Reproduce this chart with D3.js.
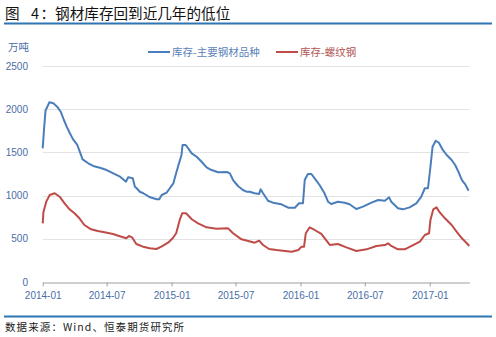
<!DOCTYPE html>
<html><head><meta charset="utf-8">
<script src="https://cdn.jsdelivr.net/npm/d3@7"></script>
<style>
html,body{margin:0;padding:0;background:#fff;}
svg{display:block;}
</style></head>
<body>
<svg id="c" width="496" height="337"></svg>
<script>
// ---- data ----
const titleParts = ["图", "4", "：钢材库存回到近几年的低位"];
const sourceText = "数据来源：Wind、恒泰期货研究所";
const unitLabel = "万吨";
const seriesNames = ["库存-主要钢材品种", "库存-螺纹钢"];
const yTicks = [0, 500, 1000, 1500, 2000, 2500];
const xTickLabels = ["2014-01","2014-07","2015-01","2015-07","2016-01","2016-07","2017-01"];

const mainDates = ["2014-01-01","2014-01-05","2014-01-09","2014-01-20","2014-01-31","2014-02-11","2014-02-21","2014-03-02","2014-03-10","2014-03-19","2014-03-28","2014-04-09","2014-04-16","2014-04-24","2014-05-10","2014-05-24","2014-06-12","2014-07-01","2014-07-20","2014-08-08","2014-08-25","2014-08-31","2014-09-13","2014-09-19","2014-09-24","2014-10-03","2014-10-13","2014-11-01","2014-11-20","2014-11-27","2014-12-04","2014-12-18","2014-12-27","2015-01-06","2015-01-15","2015-01-22","2015-01-29","2015-02-01","2015-02-10","2015-02-17","2015-02-27","2015-03-13","2015-03-27","2015-04-10","2015-04-24","2015-05-13","2015-06-07","2015-06-15","2015-06-24","2015-07-08","2015-07-22","2015-08-01","2015-08-10","2015-08-24","2015-09-06","2015-09-10","2015-09-17","2015-10-01","2015-10-15","2015-11-08","2015-11-27","2015-12-16","2015-12-28","2016-01-08","2016-01-13","2016-01-22","2016-02-01","2016-02-10","2016-02-24","2016-03-09","2016-03-19","2016-03-28","2016-04-16","2016-05-05","2016-05-19","2016-06-07","2016-06-26","2016-07-20","2016-08-08","2016-08-27","2016-09-08","2016-09-14","2016-10-03","2016-10-17","2016-11-05","2016-11-24","2016-12-08","2016-12-18","2016-12-27","2017-01-03","2017-01-09","2017-01-18","2017-01-27","2017-02-07","2017-02-18","2017-03-04","2017-03-14","2017-03-23","2017-04-02","2017-04-11","2017-04-21"];
const mainValues = [1547,1779,1983,2080,2068,2029,1971,1875,1798,1721,1651,1586,1508,1420,1374,1343,1323,1296,1258,1219,1161,1212,1200,1103,1085,1045,1027,980,957,957,1007,1034,1085,1142,1277,1374,1470,1586,1586,1547,1489,1450,1392,1327,1296,1270,1273,1258,1180,1111,1065,1045,1045,1027,1018,1073,1027,941,918,899,860,860,911,911,1180,1250,1250,1200,1123,1027,929,903,929,918,900,845,872,918,949,941,980,929,853,841,864,911,987,1085,1085,1334,1566,1635,1612,1528,1470,1412,1354,1277,1180,1134,1057];

const rebarDates = ["2014-01-01","2014-01-03","2014-01-11","2014-01-21","2014-02-04","2014-02-18","2014-03-04","2014-03-18","2014-04-01","2014-04-15","2014-04-29","2014-05-18","2014-06-06","2014-06-25","2014-07-19","2014-08-12","2014-08-26","2014-09-02","2014-09-11","2014-09-23","2014-10-12","2014-10-31","2014-11-19","2014-12-03","2014-12-22","2015-01-04","2015-01-14","2015-01-24","2015-01-31","2015-02-11","2015-02-27","2015-03-17","2015-04-10","2015-05-08","2015-06-10","2015-06-24","2015-07-18","2015-08-06","2015-08-24","2015-09-06","2015-09-17","2015-10-04","2015-10-25","2015-11-18","2015-12-07","2015-12-26","2016-01-04","2016-01-11","2016-01-16","2016-01-27","2016-02-10","2016-02-29","2016-03-19","2016-03-24","2016-04-16","2016-05-10","2016-06-07","2016-07-06","2016-08-03","2016-08-27","2016-09-05","2016-09-14","2016-10-03","2016-10-22","2016-11-15","2016-12-04","2016-12-18","2016-12-30","2017-01-03","2017-01-11","2017-01-20","2017-01-30","2017-02-13","2017-03-04","2017-03-18","2017-04-02","2017-04-16","2017-04-23"];
const rebarValues = [679,806,930,1007,1027,987,911,841,795,737,660,610,590,575,556,524,506,532,517,440,409,390,382,409,455,506,564,718,795,795,726,679,633,617,621,564,494,475,455,478,428,382,370,359,351,370,409,409,564,633,602,556,455,428,440,401,359,378,417,428,448,417,378,378,428,467,544,564,718,841,864,802,737,660,583,506,448,417];

// ---- drawing ----
const parse = d3.timeParse("%Y-%m-%d");
const parseM = d3.timeParse("%Y-%m");
const svg = d3.select("#c");
const fontSans = "'Liberation Sans', Arial, sans-serif";
const fontCJK = "'Noto Sans CJK SC', 'Liberation Sans', sans-serif";
const axisColor = "#4a6ea6";
const blue = "#4a7ebb", red = "#be4b48";

const x = d3.scaleTime().domain([parse("2014-01-01"), parse("2017-04-23")]).range([42.7, 469.3]);
const y = d3.scaleLinear().domain([0, 2500]).range([282, 66]);

// title
const title = svg.append("text").attr("y", 19).attr("font-family", fontCJK)
  .attr("font-size", 14.6).attr("fill", "#111");
const titleX = [5, 31, 40.5];
titleParts.forEach((t, i) => title.append("tspan").attr("x", titleX[i]).text(t));
svg.append("line").attr("x1", 4).attr("x2", 492).attr("y1", 23.5).attr("y2", 23.5)
  .attr("stroke", "#2e75b6").attr("stroke-width", 2);

// gridlines
svg.append("g").selectAll("line").data(yTicks.filter(d => d > 0)).join("line")
  .attr("x1", 42.7).attr("x2", 469.3)
  .attr("y1", d => Math.round(y(d)) + 0.5).attr("y2", d => Math.round(y(d)) + 0.5)
  .attr("stroke", "#e3e3e3").attr("stroke-width", 1);

// y axis labels
svg.append("g").selectAll("text").data(yTicks).join("text")
  .attr("x", 28).attr("y", d => y(d) + 3.5).attr("text-anchor", "end")
  .attr("font-family", fontSans).attr("font-size", 10).attr("fill", axisColor)
  .text(d => d);

svg.append("text").attr("x", 8).attr("y", 51).attr("font-family", fontCJK)
  .attr("font-size", 10.5).attr("fill", axisColor).text(unitLabel);

// x axis
const xAxis = d3.axisBottom(x)
  .tickValues(xTickLabels.map(s => parseM(s)))
  .tickFormat(d3.timeFormat("%Y-%m"))
  .tickSize(4).tickSizeOuter(0);
const gx = svg.append("g").attr("transform", "translate(0,282.5)").call(xAxis);
gx.select(".domain").attr("stroke", "#a0a0a0");
gx.selectAll(".tick line").attr("stroke", "#a0a0a0");
gx.selectAll(".tick text").attr("font-family", fontSans).attr("font-size", 10)
  .attr("fill", axisColor).attr("dy", "0.9em");

// lines
const mainData = mainDates.map((d, i) => ({date: parse(d), v: mainValues[i]}));
const rebarData = rebarDates.map((d, i) => ({date: parse(d), v: rebarValues[i]}));
const line = d3.line().x(d => x(d.date)).y(d => y(d.v)).curve(d3.curveLinear);
svg.append("path").datum(rebarData).attr("d", line).attr("fill", "none")
  .attr("stroke", red).attr("stroke-width", 2).attr("stroke-linejoin", "round");
svg.append("path").datum(mainData).attr("d", line).attr("fill", "none")
  .attr("stroke", blue).attr("stroke-width", 2).attr("stroke-linejoin", "round");

// legend
const legend = [{name: seriesNames[0], color: blue, x: 148, tc: "#5a7fb8"},
                {name: seriesNames[1], color: red, x: 276, tc: "#b05552"}];
legend.forEach(l => {
  svg.append("line").attr("x1", l.x).attr("x2", l.x + 22).attr("y1", 52).attr("y2", 52)
    .attr("stroke", l.color).attr("stroke-width", 2);
  svg.append("text").attr("x", l.x + 24).attr("y", 55.5).attr("font-family", fontCJK)
    .attr("font-size", 10.5).attr("fill", l.tc).text(l.name);
});

// bottom rule & source
svg.append("line").attr("x1", 4).attr("x2", 492).attr("y1", 316.5).attr("y2", 316.5)
  .attr("stroke", "#2e75b6").attr("stroke-width", 2);
svg.append("text").attr("x", 5).attr("y", 331).attr("font-family", "'Noto Sans CJK SC', 'Liberation Serif', serif")
  .attr("font-size", 10.5).attr("letter-spacing", 1.1).attr("fill", "#222").text(sourceText);
</script>
</body></html>
